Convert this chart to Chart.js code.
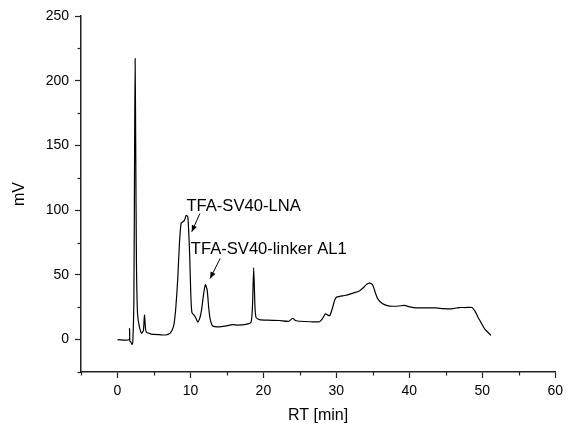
<!DOCTYPE html>
<html>
<head>
<meta charset="utf-8">
<script src="https://cdn.jsdelivr.net/npm/chart.js@4/dist/chart.umd.min.js"></script>
<style>
html,body{margin:0;padding:0;background:#fff;}
canvas{display:block;}
</style>
</head>
<body>
<canvas id="c" width="568" height="427"></canvas>
<script>
// Retention time (min)
const rt = [0, 1.6, 1.65, 1.7, 1.85, 2.0, 2.1, 2.25, 2.35, 2.42, 2.5, 2.6, 2.75, 3.0, 3.3, 3.55, 3.7, 3.85, 4.0, 4.3, 4.6, 5.0, 5.75, 6.6, 7.2, 7.5, 7.75, 8.0, 8.25, 8.5, 8.72, 8.95, 9.15, 9.27, 9.4, 9.63, 9.75, 9.9, 10.05, 10.2, 10.55, 10.8, 11.0, 11.25, 11.5, 11.8, 12.05, 12.3, 12.5, 12.7, 13.06, 13.97, 14.8, 15.8, 16.5, 17.6, 18.3, 18.5, 18.67, 18.85, 19.0, 19.45, 20.5, 22.2, 23.5, 24.0, 24.4, 25.0, 26.5, 27.7, 28.1, 28.5, 28.8, 29.1, 29.5, 29.8, 30.1, 31.3, 32.3, 33.15, 33.8, 34.2, 34.7, 35.0, 35.3, 35.66, 36.3, 37.0, 37.7, 38.6, 39.3, 40.1, 40.9, 42.2, 43.6, 44.6, 45.5, 46.2, 46.8, 47.7, 48.6, 49.0, 49.4, 49.9, 50.3, 50.8, 51.2];
// Signal (mV)
const mv = [0, 0, 8.5, -1, -2, -3.8, -2, 30, 150, 217, 150, 60, 20, 10, 5, 7, 19, 8, 5.5, 5, 4.3, 4.0, 3.8, 3.6, 5, 7.5, 12, 25, 46, 75, 90, 91, 92, 93.5, 96, 95, 85, 65, 35, 21, 18.5, 16, 13.6, 16, 22, 35, 42.5, 38, 25, 16, 10.5, 9.8, 10.5, 11.6, 11.2, 11.8, 13.5, 25, 55.5, 25, 17, 15.5, 15, 14.8, 14.2, 16.5, 14.8, 14.2, 13.8, 13.8, 16.2, 20, 19, 18.5, 25, 31, 33, 34.3, 36, 37.6, 40.7, 43, 43.5, 42, 37, 31.7, 27.9, 26.3, 25.8, 26, 26.5, 25.3, 24.5, 24.6, 24.5, 24, 23.7, 24.2, 24.8, 24.8, 24.8, 22, 17.5, 12.5, 8.5, 5.5, 3.3];

const annotationLabels = ['TFA-SV40-LNA', 'TFA-SV40-linker AL1'];
// label anchors (data coordinates) and arrows
const annotations = [
  {text: annotationLabels[0], x: 9.45, y: 103.2, from: [11.3, 97.5], to: [10.18, 83.3]},
  {text: annotationLabels[1], x: 10.05, y: 69.5, from: [14.07, 62.7], to: [12.70, 47.2]}
];

const FONT = '"Liberation Sans", Arial, sans-serif';
const AXIS = '#222';

const minorTicks = {
  id: 'minorTicks',
  afterDraw(chart) {
    const ctx = chart.ctx;
    ctx.save();
    ctx.strokeStyle = AXIS;
    ctx.lineWidth = 1.2;
    const xs = chart.scales.x, ys = chart.scales.y;
    xs.ticks.forEach(t => {
      if (t.value % 10 !== 0) {
        const p = Math.round(xs.getPixelForValue(t.value)) + 0.5;
        ctx.beginPath(); ctx.moveTo(p, xs.top); ctx.lineTo(p, xs.top + 3.5); ctx.stroke();
      }
    });
    ys.ticks.forEach(t => {
      if (t.value % 50 !== 0) {
        const p = Math.round(ys.getPixelForValue(t.value)) + 0.5;
        ctx.beginPath(); ctx.moveTo(ys.right, p); ctx.lineTo(ys.right - 3.5, p); ctx.stroke();
      }
    });
    ctx.restore();
  }
};

const annotate = {
  id: 'annotate',
  afterDatasetsDraw(chart) {
    const ctx = chart.ctx;
    const xs = chart.scales.x, ys = chart.scales.y;
    ctx.save();
    ctx.fillStyle = '#000';
    ctx.strokeStyle = '#000';
    ctx.font = '16.6px ' + FONT;
    ctx.textAlign = 'left';
    ctx.textBaseline = 'middle';
    annotations.forEach(a => {
      ctx.fillText(a.text, xs.getPixelForValue(a.x), ys.getPixelForValue(a.y));
      const x1 = xs.getPixelForValue(a.from[0]), y1 = ys.getPixelForValue(a.from[1]);
      const x2 = xs.getPixelForValue(a.to[0]), y2 = ys.getPixelForValue(a.to[1]);
      ctx.lineWidth = 1;
      ctx.beginPath(); ctx.moveTo(x1, y1); ctx.lineTo(x2, y2); ctx.stroke();
      const ang = Math.atan2(y2 - y1, x2 - x1);
      const L = 7, W = 0.4;
      ctx.beginPath();
      ctx.moveTo(x2, y2);
      ctx.lineTo(x2 - L * Math.cos(ang - W), y2 - L * Math.sin(ang - W));
      ctx.lineTo(x2 - L * Math.cos(ang + W), y2 - L * Math.sin(ang + W));
      ctx.closePath(); ctx.fill();
    });
    ctx.restore();
  }
};

new Chart(document.getElementById('c'), {
  type: 'line',
  data: {
    datasets: [{
      data: rt.map((x, i) => ({x: x, y: mv[i]})),
      borderColor: '#000',
      borderWidth: 1.2,
      pointRadius: 0,
      tension: 0.2,
      fill: false
    }]
  },
  options: {
    responsive: false,
    animation: false,
    devicePixelRatio: 1,
    layout: {padding: {top: 16, right: 10, left: 0, bottom: 0}},
    plugins: {legend: {display: false}, tooltip: {enabled: false}},
    scales: {
      x: {
        type: 'linear', position: 'bottom', min: -5, max: 60,
        afterFit(s) { s.height = 55; },
        ticks: {
          stepSize: 5, autoSkip: false, maxRotation: 0, padding: 5,
          color: '#000', font: {family: FONT, size: 14},
          callback: v => (v % 10 === 0 ? String(v) : '')
        },
        grid: {
          drawOnChartArea: false, drawTicks: true, tickLength: 6, tickWidth: 1.2,
          tickColor: c => (c.tick && c.tick.value % 10 === 0 ? AXIS : 'rgba(0,0,0,0)')
        },
        border: {display: true, color: AXIS, width: 1.5},
        title: {display: true, text: 'RT [min]', color: '#000', font: {family: FONT, size: 16}, padding: {top: 0, bottom: 2}}
      },
      y: {
        type: 'linear', position: 'left', min: -25, max: 250,
        afterFit(s) { s.width = 81; },
        ticks: {
          stepSize: 25, autoSkip: false, padding: 6,
          color: '#000', font: {family: FONT, size: 14},
          callback: v => (v % 50 === 0 && v >= 0 ? String(v) : '')
        },
        grid: {
          drawOnChartArea: false, drawTicks: true, tickLength: 6, tickWidth: 1.2,
          tickColor: c => (c.tick && c.tick.value % 50 === 0 ? AXIS : 'rgba(0,0,0,0)')
        },
        border: {display: true, color: AXIS, width: 1.5},
        title: {display: true, text: 'mV', color: '#000', font: {family: FONT, size: 16}, padding: {top: 10, bottom: 0}}
      }
    }
  },
  plugins: [minorTicks, annotate]
});
</script>
</body>
</html>
